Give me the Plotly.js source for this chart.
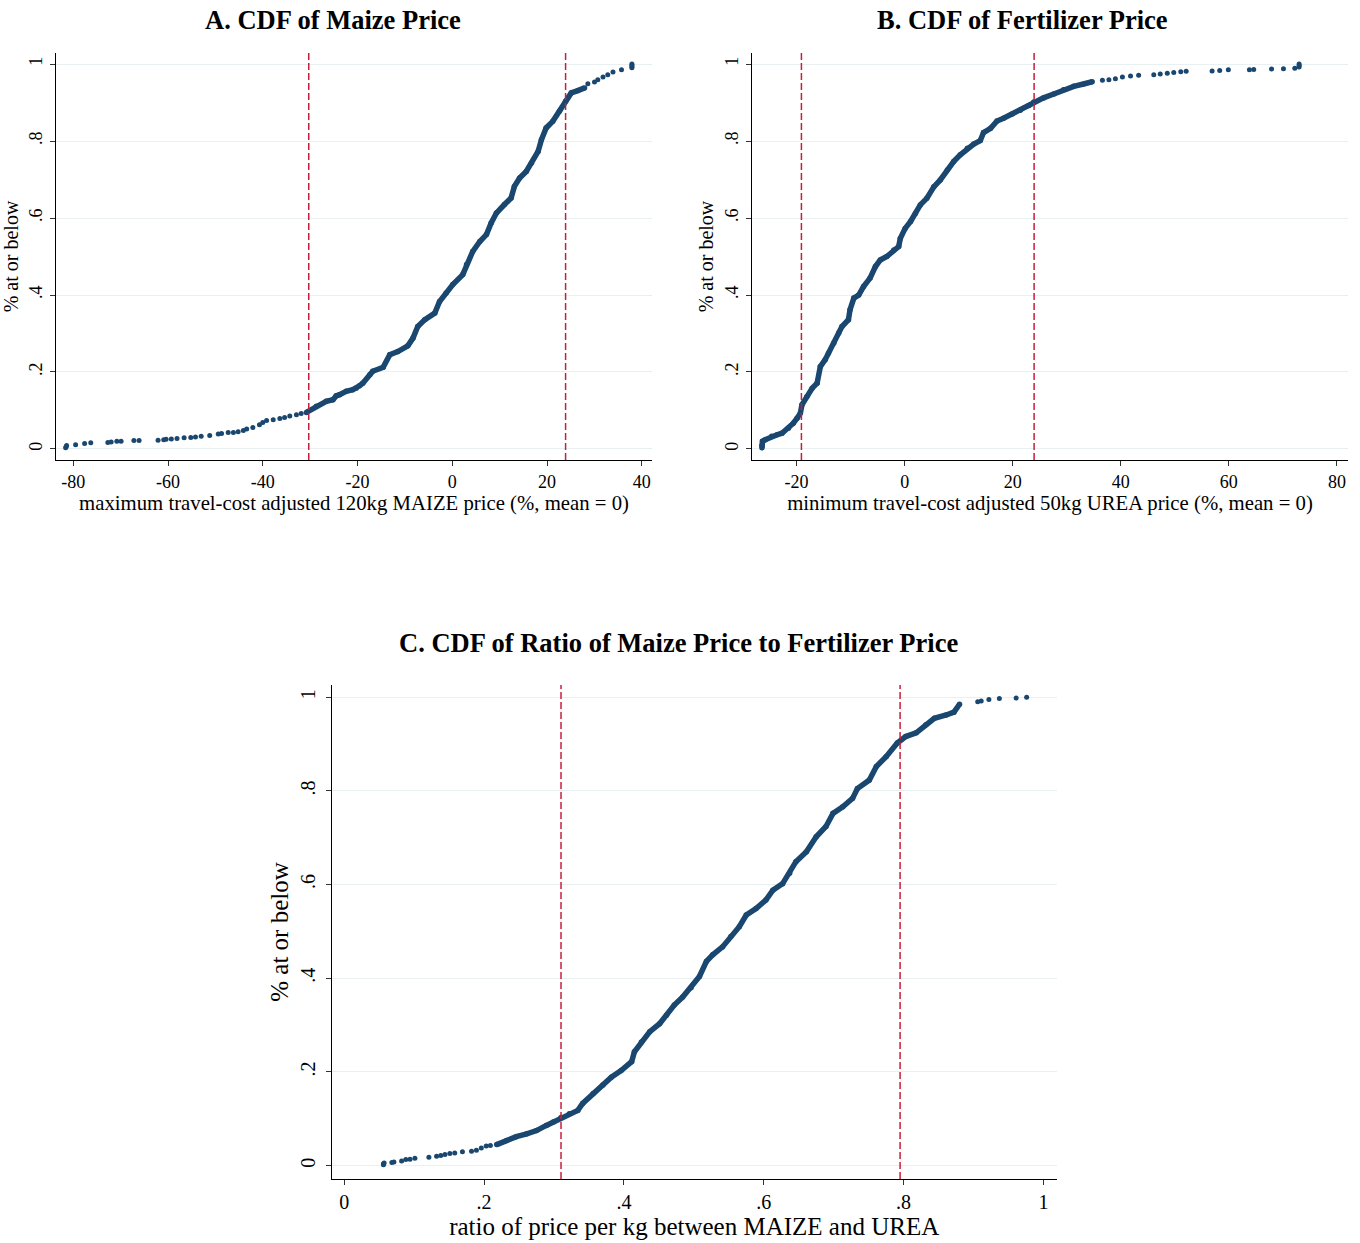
<!DOCTYPE html>
<html>
<head>
<meta charset="utf-8">
<script src="https://cdn.plot.ly/plotly-3.0.1.min.js"></script>
<style>html,body{margin:0;padding:0;background:#fff;}#chart{width:1360px;height:1243px;}</style>
</head>
<body>
<div id="chart"></div>
<script>
// ---------- Panel A: maize price ----------
const maizeLowX = [-81.6,-81.5,-81.4,-79.5,-77.6,-76.3,-72.7,-72.0,-70.8,-69.9,-67.2,-66.1,-62.1,-60.9,-60.4,-59.3,-58.1,-56.6,-55.2,-54.2,-53.0,-51.2,-49.4,-48.7,-47.3,-46.2,-45.2,-44.1,-43.4,-42.1,-40.7,-40.0,-39.2,-37.8,-36.4,-35.4,-34.3,-32.9,-31.9];
const maizeLowY = [0.003,0.006,0.009,0.011,0.014,0.016,0.017,0.018,0.020,0.020,0.022,0.022,0.023,0.024,0.025,0.026,0.027,0.029,0.030,0.031,0.033,0.035,0.039,0.040,0.043,0.043,0.045,0.048,0.052,0.056,0.063,0.069,0.074,0.076,0.079,0.082,0.086,0.089,0.092];
const maizeX = [-30.8,-28.7,-26.6,-25.2,-24.5,-23.8,-22.4,-21.0,-20.3,-19.6,-18.9,-17.4,-16.8,-14.6,-13.2,-11.5,-9.4,-8.3,-7.3,-5.8,-3.7,-2.7,-1.3,0.1,2.2,3.0,4.3,5.8,7.2,8.2,9.3,11.0,12.4,13.1,14.2,15.6,16.7,18.1,18.8,19.8,21.2,22.6,23.9,25.1,26.5,27.9];
const maizeY = [0.095,0.111,0.124,0.128,0.138,0.141,0.150,0.154,0.158,0.164,0.171,0.193,0.202,0.212,0.245,0.253,0.268,0.288,0.318,0.336,0.353,0.383,0.405,0.427,0.453,0.479,0.513,0.539,0.557,0.587,0.613,0.635,0.652,0.682,0.704,0.721,0.743,0.773,0.803,0.834,0.851,0.877,0.903,0.925,0.931,0.938];
const maizeHighX = [28.6,30.0,30.7,31.8,32.8,33.9,35.7,37.9,37.9,37.9,37.9];
const maizeHighY = [0.949,0.953,0.959,0.966,0.972,0.979,0.985,0.990,0.993,0.997,1.0];
const maizeCutoffs = [-30.3, 23.9];
const maizeTicks = [-80,-60,-40,-20,0,20,40];
const maizeTickText = ['-80','-60','-40','-20','0','20','40'];

// ---------- Panel B: fertilizer price ----------
const fertX = [-26.4,-26.4,-26.3,-25.8,-24.6,-23.6,-22.7,-21.5,-20.6,-19.9,-19.3,-19.0,-18.1,-17.1,-16.2,-15.6,-14.7,-14.1,-13.1,-12.2,-11.6,-10.4,-10.1,-9.4,-8.5,-7.6,-6.4,-5.4,-4.5,-3.3,-2.0,-1.1,-0.8,0.1,1.1,2.0,2.9,4.1,5.4,6.6,7.9,9.1,10.3,11.6,12.8,14.0,14.6,15.9,17.1,18.3,19.9,21.4,23.0,23.9,25.7,27.6,29.4,31.3,33.1,34.7];
const fertY = [0.003,0.010,0.020,0.024,0.033,0.037,0.041,0.054,0.067,0.080,0.093,0.115,0.136,0.158,0.171,0.214,0.232,0.249,0.275,0.301,0.318,0.336,0.362,0.392,0.400,0.422,0.444,0.474,0.491,0.500,0.517,0.526,0.547,0.573,0.591,0.612,0.634,0.651,0.681,0.699,0.725,0.747,0.764,0.781,0.792,0.801,0.822,0.833,0.852,0.859,0.870,0.880,0.892,0.901,0.912,0.922,0.933,0.942,0.948,0.954];
const fertHighX = [36.6,37.8,39.0,40.3,41.8,43.3,46.1,47.3,48.6,49.8,51.1,52.1,56.9,58.3,59.9,63.8,64.6,67.9,70.1,72.2,73.0,73.0,73.0];
const fertHighY = [0.958,0.959,0.962,0.966,0.969,0.971,0.972,0.974,0.976,0.978,0.980,0.981,0.982,0.983,0.985,0.985,0.986,0.987,0.988,0.989,0.992,0.996,1.0];
const fertCutoffs = [-19.1, 23.96];
const fertTicks = [-20,0,20,40,60,80];
const fertTickText = ['-20','0','20','40','60','80'];

// ---------- Panel C: ratio ----------
const ratioLowX = [0.056,0.056,0.057,0.068,0.071,0.082,0.088,0.094,0.101,0.121,0.132,0.138,0.144,0.151,0.158,0.169,0.182,0.189,0.196,0.203,0.209];
const ratioLowY = [0.002,0.004,0.006,0.007,0.008,0.010,0.013,0.014,0.016,0.018,0.020,0.022,0.024,0.026,0.027,0.030,0.031,0.033,0.038,0.042,0.043];
const ratioX = [0.218,0.232,0.246,0.261,0.275,0.289,0.299,0.310,0.322,0.334,0.341,0.356,0.370,0.382,0.396,0.411,0.415,0.425,0.437,0.451,0.461,0.472,0.484,0.496,0.508,0.518,0.527,0.541,0.553,0.565,0.575,0.589,0.603,0.613,0.627,0.637,0.646,0.661,0.675,0.689,0.699,0.713,0.727,0.734,0.751,0.761,0.775,0.791,0.803,0.818,0.832,0.844,0.861,0.872,0.880];
const ratioY = [0.045,0.054,0.062,0.068,0.075,0.086,0.093,0.103,0.111,0.118,0.133,0.154,0.172,0.189,0.203,0.222,0.243,0.264,0.286,0.303,0.321,0.343,0.360,0.380,0.404,0.436,0.450,0.467,0.489,0.510,0.535,0.549,0.567,0.588,0.602,0.624,0.649,0.670,0.702,0.724,0.752,0.766,0.784,0.805,0.823,0.852,0.873,0.902,0.916,0.924,0.941,0.955,0.962,0.968,0.985];
const ratioHighX = [0.906,0.911,0.922,0.937,0.961,0.976];
const ratioHighY = [0.990,0.992,0.995,0.997,0.998,1.0];
const ratioCutoffs = [0.31, 0.795];
const ratioTicks = [0,0.2,0.4,0.6,0.8,1];
const ratioTickText = ['0','.2','.4','.6','.8','1'];

const cdfTicks = [0,0.2,0.4,0.6,0.8,1];
const cdfTickText = ['0','.2','.4','.6','.8','1'];

const titles = ['A. CDF of Maize Price','B. CDF of Fertilizer Price','C. CDF of Ratio of Maize Price to Fertilizer Price'];
const xTitles = ['maximum travel-cost adjusted 120kg MAIZE price (%, mean = 0)','minimum travel-cost adjusted 50kg UREA price (%, mean = 0)','ratio of price per kg between MAIZE and UREA'];
const yTitle = '% at or below';

// ---------- styling ----------
const W = 1360, H = 1243;
const NAVY = '#1a476f';
const RED = '#c81e3c';
const FONT = 'Liberation Serif, Times New Roman, serif';

function dots(x, y, xa, ya) {
  return {x: x, y: y, xaxis: xa, yaxis: ya, type: 'scatter', mode: 'markers',
    marker: {color: NAVY, size: 5}, hoverinfo: 'skip', showlegend: false};
}
function dense(x, y, xa, ya) {
  return {x: x, y: y, xaxis: xa, yaxis: ya, type: 'scatter', mode: 'lines+markers',
    line: {color: NAVY, width: 5.5}, marker: {color: NAVY, size: 5.5}, hoverinfo: 'skip', showlegend: false};
}

const data = [
  dots(maizeLowX, maizeLowY, 'x', 'y'),
  dense(maizeX, maizeY, 'x', 'y'),
  dots(maizeHighX, maizeHighY, 'x', 'y'),
  dense(fertX, fertY, 'x2', 'y2'),
  dots(fertHighX, fertHighY, 'x2', 'y2'),
  dots(ratioLowX, ratioLowY, 'x3', 'y3'),
  dense(ratioX, ratioY, 'x3', 'y3'),
  dots(ratioHighX, ratioHighY, 'x3', 'y3')
];

function px(v) { return v / W; }
function py(v) { return 1 - v / H; }

function xAxis(domain, range, tickvals, ticktext, fs, tfs, title, standoff, anchor) {
  return {domain: domain, range: range, tickmode: 'array', tickvals: tickvals, ticktext: ticktext,
    ticks: 'outside', ticklen: 5, tickwidth: 1, tickcolor: '#333',
    showline: true, linecolor: '#000', linewidth: 1.2, mirror: false,
    showgrid: false, zeroline: false, anchor: anchor, automargin: false,
    tickfont: {family: FONT, size: fs, color: '#000'},
    title: {text: title, font: {family: FONT, size: tfs, color: '#000'}, standoff: standoff}};
}
function yAxis(domain, range, fs, tfs, standoff, labelGap, anchor) {
  return {domain: domain, range: range, tickmode: 'array', tickvals: cdfTicks, ticktext: cdfTickText,
    tickangle: -90, ticks: 'outside', ticklen: 5, tickwidth: 1, tickcolor: '#333',
    ticklabelstandoff: labelGap,
    showline: true, linecolor: '#000', linewidth: 1.2,
    showgrid: true, gridcolor: '#e8f0f2', gridwidth: 1, zeroline: false, anchor: anchor, automargin: false,
    tickfont: {family: FONT, size: fs, color: '#000'},
    title: {text: yTitle, font: {family: FONT, size: tfs, color: '#000'}, standoff: standoff}};
}

const shapes = [];
function cutLines(vals, xref, yref) {
  vals.forEach(v => shapes.push({type: 'line', xref: xref, yref: yref + ' domain',
    x0: v, x1: v, y0: 0, y1: 1, line: {color: RED, width: 1.5, dash: '7px,3px'}, layer: 'above'}));
}
cutLines(maizeCutoffs, 'x', 'y');
cutLines(fertCutoffs, 'x2', 'y2');
cutLines(ratioCutoffs, 'x3', 'y3');

const titleFont = {family: FONT, size: 26.5, color: '#000'};
const annotations = [
  {text: '<b>' + titles[0] + '</b>', xref: 'paper', yref: 'paper', x: px(332.5), y: py(20), xanchor: 'center', yanchor: 'middle', showarrow: false, font: titleFont},
  {text: '<b>' + titles[1] + '</b>', xref: 'paper', yref: 'paper', x: px(1022), y: py(20), xanchor: 'center', yanchor: 'middle', showarrow: false, font: titleFont},
  {text: '<b>' + titles[2] + '</b>', xref: 'paper', yref: 'paper', x: px(678), y: py(643), xanchor: 'center', yanchor: 'middle', showarrow: false, font: titleFont}
];

const layout = {
  width: W, height: H,
  margin: {l: 0, r: 0, t: 0, b: 0},
  paper_bgcolor: '#fff', plot_bgcolor: '#fff',
  font: {family: FONT, color: '#000'},
  showlegend: false,
  xaxis: xAxis([px(55.7), px(652.3)], [-83.7, 42.2], maizeTicks, maizeTickText, 18, 20.75, xTitles[0], 0, 'y'),
  yaxis: yAxis([py(460), py(53)], [-0.0286, 1.0286], 18, 20, 3, 0, 'x'),
  xaxis2: xAxis([px(751.7), px(1348.3)], [-28.3, 82.1], fertTicks, fertTickText, 18, 20.75, xTitles[1], 0, 'y2'),
  yaxis2: yAxis([py(460), py(53)], [-0.0286, 1.0286], 18, 20, 3, 0, 'x2'),
  xaxis3: xAxis([px(331.7), px(1056.7)], [-0.018, 1.019], ratioTicks, ratioTickText, 20, 25, xTitles[2], 2, 'y3'),
  yaxis3: yAxis([py(1179), py(685)], [-0.0284, 1.026], 20, 25, 0, 3, 'x3'),
  shapes: shapes,
  annotations: annotations
};

Plotly.newPlot('chart', data, layout, {staticPlot: true, displayModeBar: false});
</script>
</body>
</html>
